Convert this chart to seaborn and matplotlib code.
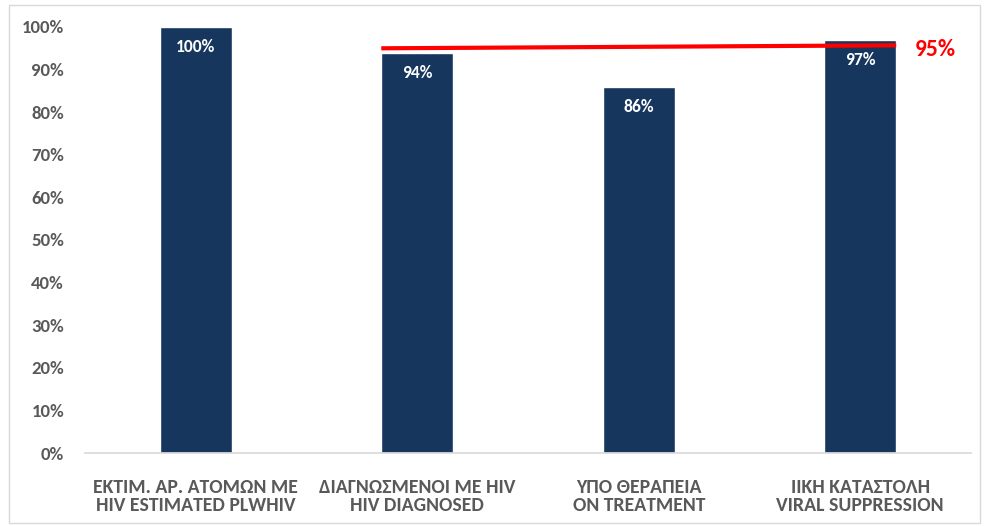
import matplotlib
matplotlib.use("Agg")
import matplotlib.pyplot as plt
import seaborn as sns
import pandas as pd
from matplotlib.patches import Rectangle

categories = ["ΕΚΤΙΜ. ΑΡ. ΑΤΟΜΩΝ ΜΕ\nHIV ESTIMATED PLWHIV",
              "ΔΙΑΓΝΩΣΜΕΝΟΙ ΜΕ HIV\nHIV DIAGNOSED",
              "ΥΠΟ ΘΕΡΑΠΕΙΑ\nON TREATMENT",
              "ΙΙΚΗ ΚΑΤΑΣΤΟΛΗ\nVIRAL SUPPRESSION"]
values = [100, 94, 86, 97]
value_labels = ["100%", "94%", "86%", "97%"]
target_values = [95.0, 95.7]
target_label = "95%"
yticks = list(range(0, 101, 10))

sns.set_theme(style="white")
plt.rcParams['font.family'] = ['Carlito', 'DejaVu Sans']

df = pd.DataFrame({"cat": categories, "val": values})
fig = plt.figure(figsize=(9.84, 5.26), dpi=100)
ax = fig.add_axes([85/984, 1-453/526, (971-85)/984, (453-27)/526])
sns.barplot(data=df, x="cat", y="val", color="#17365D", width=0.325, ax=ax, saturation=1)
ax.set_ylim(0, 100)
ax.set_xlim(-0.5, 3.5)
ax.set_yticks(yticks)
ax.set_yticklabels([f"{t}%" for t in yticks], color="#595959", fontsize=13.6, fontweight="bold")
ax.set_xticklabels(categories, color="#595959", fontsize=14.2, fontweight="bold", linespacing=1.1)
ax.set_xlabel("")
ax.set_ylabel("")
for s in ["top", "right", "left"]:
    ax.spines[s].set_visible(False)
ax.spines["bottom"].set_color("#D9D9D9")
ax.tick_params(axis="y", length=0, pad=15)
ax.tick_params(axis="x", length=0, pad=18.5)

for i, (v, lab) in enumerate(zip(values, value_labels)):
    ax.text(i, v - 4.8, lab, ha="center", va="center", color="white", fontsize=12.6, fontweight="bold")

w = 0.325
ax.plot([1 - w/2, 3 + w/2], target_values, color="#FF0000", lw=3, solid_capstyle="butt", clip_on=False)
ax.text(3 + w/2 + 0.085, target_values[1] - 1.0, target_label, color="#FF0000", fontsize=17,
        fontweight="bold", ha="left", va="center", clip_on=False)

fig.patches.append(Rectangle((9/984, 3/526), 971/984, 518/526, transform=fig.transFigure,
                             fill=False, edgecolor="#D9D9D9", lw=1))
fig.savefig("out.png", dpi=100)
